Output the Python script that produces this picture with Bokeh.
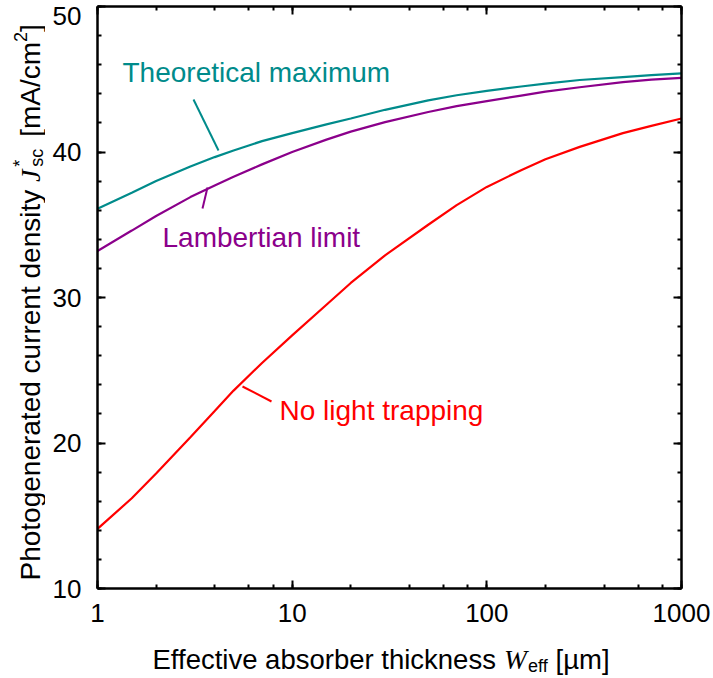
import math
from bokeh.plotting import figure
from bokeh.layouts import row, column
from bokeh.models import (LogAxis, LinearAxis, Range1d, Label, SingleIntervalTicker,
                          LogTicker, NumeralTickFormatter, LogScale)
from bokeh.core.properties import value
from bokeh.embed import file_html
from bokeh.resources import INLINE

# ---------------- data ----------------
thickness_um = [1, 1.5, 2, 3, 4, 5, 7, 10, 15, 20, 30, 50, 70, 100, 150, 200, 300, 500, 700, 1000]
theoretical_max = [36.1, 37.2, 38.0, 39.0, 39.65, 40.1, 40.75, 41.3, 41.9, 42.3, 42.9, 43.55,
                   43.9, 44.2, 44.5, 44.7, 44.95, 45.15, 45.28, 45.4]
lambertian = [33.2, 34.6, 35.6, 36.9, 37.7, 38.3, 39.15, 40.0, 40.85, 41.4, 42.05, 42.75,
              43.15, 43.5, 43.88, 44.15, 44.45, 44.8, 44.97, 45.1]
no_trapping = [14.1, 16.2, 17.9, 20.4, 22.2, 23.6, 25.5, 27.4, 29.5, 31.0, 32.9, 35.0,
               36.35, 37.6, 38.75, 39.5, 40.35, 41.3, 41.8, 42.3]

TEAL = "#008b8b"
PURPLE = "#8b008b"
RED = "#ff0000"
FONT = "Liberation Sans"
SERIF = "Liberation Serif"

W, H = 713, 678
YLW = 45            # width of the y-title strip
XLH = 38            # height of the x-title strip
L, R, T, B = 97, 32, 6, 90
X0, X1 = 1, 1000
Y0, Y1 = 10, 50
fw, fh = W - L - R, H - T - B


def px2x(px):
    return 10 ** (math.log10(X0) + (px - L) / fw * (math.log10(X1) - math.log10(X0)))


def py2y(py):
    return Y1 - (py - T) / fh * (Y1 - Y0)


p = figure(width=W - YLW, height=H - XLH, x_axis_type=None, y_axis_type=None,
           x_range=Range1d(X0, X1), y_range=Range1d(Y0, Y1),
           output_backend="svg", toolbar_location=None,
           min_border_left=L - YLW, min_border_right=R, min_border_top=T,
           min_border_bottom=B - XLH)
p.x_scale = LogScale()
p.grid.visible = False
p.outline_line_color = None
p.background_fill_color = "white"
p.border_fill_color = "white"


def style(ax, labels=True):
    ax.axis_line_width = 2.5
    ax.axis_line_color = "black"
    ax.major_tick_in = 8
    ax.major_tick_out = 0
    ax.minor_tick_in = 4
    ax.minor_tick_out = 0
    ax.major_tick_line_width = 2
    ax.minor_tick_line_width = 2
    ax.major_label_text_font = FONT
    ax.major_label_text_font_size = "26px"
    ax.major_label_text_color = "black"
    if not labels:
        ax.major_label_text_font_size = "0px"
        ax.major_label_text_alpha = 0
        ax.major_label_standoff = 0


xb = LogAxis(ticker=LogTicker(), formatter=NumeralTickFormatter(format="0"))
style(xb)
xb.major_label_standoff = 15
xt = LogAxis(ticker=LogTicker())
style(xt, labels=False)
yl = LinearAxis(ticker=SingleIntervalTicker(interval=10, num_minor_ticks=5))
style(yl)
yl.major_label_standoff = 16
# the top label sits a little lower than its tick so that it stays on the page
yl.major_label_overrides = {50: "\n50"}
yl.major_label_text_line_height = 0.03
yr = LinearAxis(ticker=SingleIntervalTicker(interval=10, num_minor_ticks=5))
style(yr, labels=False)
p.add_layout(xb, "below")
p.add_layout(xt, "above")
p.add_layout(yl, "left")
p.add_layout(yr, "right")

p.line(thickness_um, theoretical_max, line_color=TEAL, line_width=2.2)
p.line(thickness_um, lambertian, line_color=PURPLE, line_width=2.2)
p.line(thickness_um, no_trapping, line_color=RED, line_width=2.2)


def leader(a, b, color):
    p.line([px2x(a[0]), px2x(b[0])], [py2y(a[1]), py2y(b[1])], line_color=color, line_width=2)


leader((193, 99), (218, 150), TEAL)
leader((202, 208), (207, 187), PURPLE)
leader((242, 386), (271, 401), RED)


def lab(px, py, text, color):
    p.add_layout(Label(x=px2x(px), y=py2y(py), text=text, text_color=color,
                       text_font=FONT, text_font_size="28px",
                       text_align="left", text_baseline="middle"))


lab(122, 72, "Theoretical maximum", TEAL)
lab(162, 237, "Lambertian limit", PURPLE)
lab(279, 410, "No light trapping", RED)

# Arial / Liberation Sans advance widths (per 1000 em)
AW = {' ': 278, 'P': 667, 'h': 556, 'o': 556, 't': 278, 'g': 556, 'e': 556, 'n': 556, 'r': 333,
      'a': 556, 'd': 556, 'c': 500, 'u': 556, 's': 500, 'i': 222, 'y': 500, '[': 278, ']': 278,
      'm': 833, 'A': 667, '/': 278, 'E': 667, 'f': 278, 'v': 500, 'b': 556, 'k': 500, 'µ': 556,
      '2': 556, '*': 389}


def tw(s, size):
    return sum(AW.get(ch, 556) for ch in s) * size / 1000.0


def strip(w, h, xr, yr, borders):
    f = figure(width=w, height=h, x_range=Range1d(*xr), y_range=Range1d(*yr),
               x_axis_type=None, y_axis_type=None, output_backend="svg",
               toolbar_location=None,
               min_border_left=borders[0], min_border_right=borders[1],
               min_border_top=borders[2], min_border_bottom=borders[3])
    f.grid.visible = False
    f.outline_line_color = None
    f.background_fill_color = "white"
    f.border_fill_color = "white"
    return f


AXX = 27.5
AXY = 28
SUB = 18

# ---- y-axis title strip: page x 0..YLW, page y 0..H ----
fy = strip(YLW, H, (0, YLW), (0, H), (0, 0, 0, 0))


def ytxt(px, py, text, size, font=FONT, style_="normal"):
    fy.text(x=[px], y=[H - py], text=[text], angle=math.pi / 2,
            text_font=value(font), text_font_size=f"{size}px", text_font_style=style_,
            text_color="black", text_align="left", text_baseline="alphabetic")


yb, yx = 580, 30
s1 = "Photogenerated current density"
ytxt(yx, yb, s1, AXY)
yb -= tw(s1 + " ", AXY)
ytxt(yx, yb, "J", AXY, SERIF, "italic")
yb -= 444 * AXY / 1000 + 3
ytxt(yx - 11, yb, "*", SUB)
ytxt(yx + 6, yb, "sc", SUB)
yb -= tw("sc", SUB) + tw(" ", AXY) + 4
s2 = "[mA/cm"
ytxt(yx, yb, s2, AXY)
yb -= tw(s2, AXY)
ytxt(yx - 10, yb, "2", SUB)
yb -= tw("2", SUB)
ytxt(yx, yb, "]", AXY)

# ---- x-axis title strip: page y H-XLH..H; frame spans page x L..W-R ----
fx = strip(W - YLW, XLH, (L, W - R), (0, XLH), (L - YLW, R, 0, 0))


def xtxt(px, py, text, size, font=FONT, style_="normal"):
    fx.text(x=[px], y=[H - py], text=[text], angle=0,
            text_font=value(font), text_font_size=f"{size}px", text_font_style=style_,
            text_color="black", text_align="left", text_baseline="alphabetic")


bx, by = 152, 659
s1 = "Effective absorber thickness"
xtxt(bx, by, s1, AXX)
bx += tw(s1 + " ", AXX)
xtxt(bx, by, "W", AXX, SERIF, "italic")
bx += 833 * AXX / 1000 + 1
xtxt(bx, by + 6, "eff", SUB)
bx += tw("eff", SUB) + tw(" ", AXX)
xtxt(bx, by, "[µm]", AXX)

layout = row(fy, column(p, fx, spacing=0), spacing=0)
open("out.html", "w").write(file_html(layout, INLINE))
